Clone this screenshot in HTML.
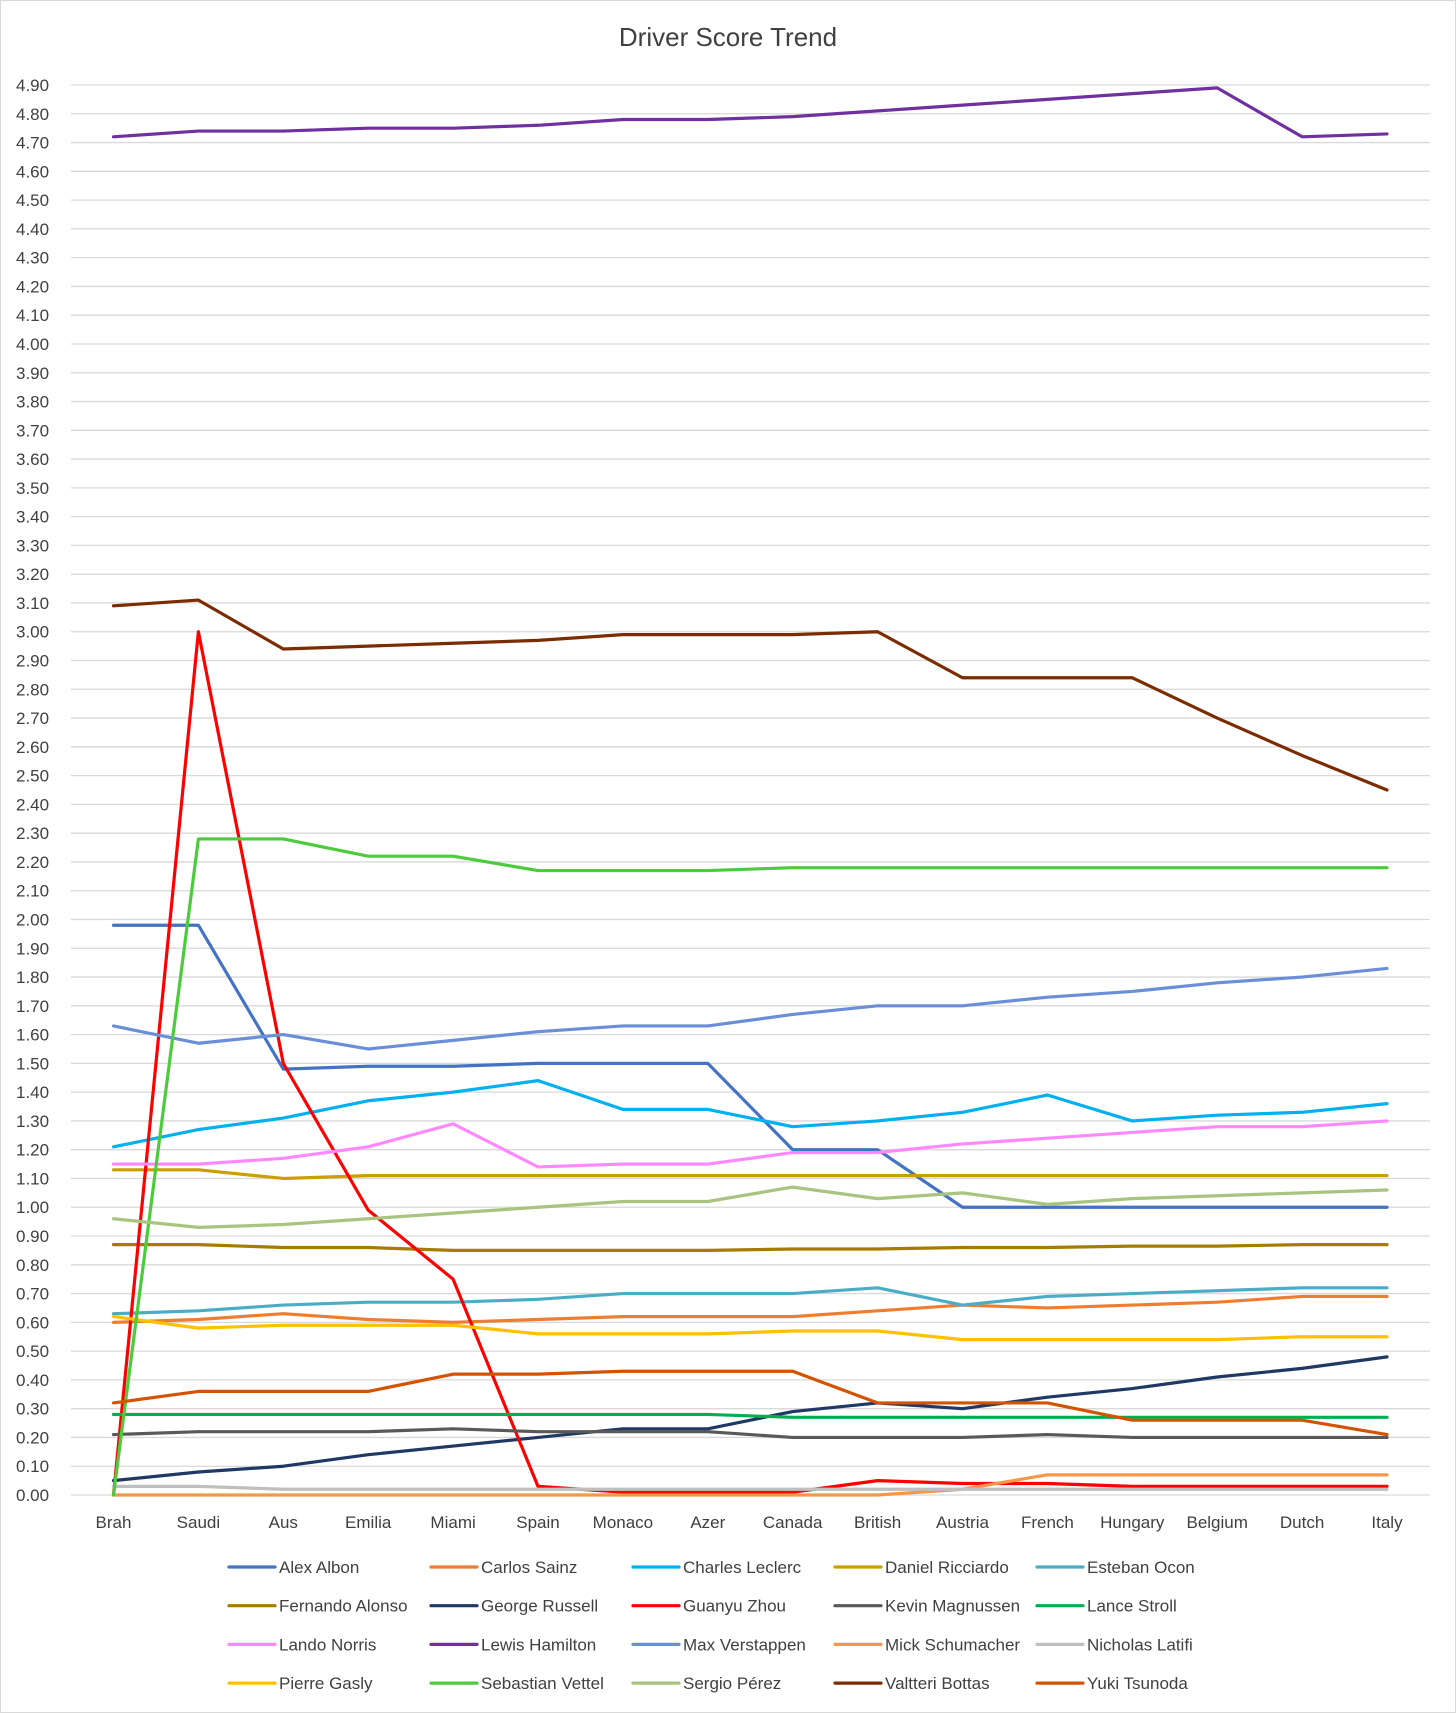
<!DOCTYPE html>
<html><head><meta charset="utf-8"><style>
html,body{margin:0;padding:0;background:#fff}
svg{display:block;font-family:"Liberation Sans",sans-serif}
</style></head><body>
<svg id="chart" width="1456" height="1713" viewBox="0 0 1456 1713" xmlns="http://www.w3.org/2000/svg">
<rect x="0.5" y="0.5" width="1455" height="1712" fill="#fff" stroke="#d9d9d9"/>
<text x="728" y="46" text-anchor="middle" font-size="26" fill="#404040">Driver Score Trend</text>
<g id="grid"></g><g id="xlab"></g><g id="series"></g><g id="legend"></g>
</svg>
<script>
const categories=["Brah","Saudi","Aus","Emilia","Miami","Spain","Monaco","Azer","Canada","British","Austria","French","Hungary","Belgium","Dutch","Italy"];
const yTicks=[0,0.1,0.2,0.3,0.4,0.5,0.6,0.7,0.8,0.9,1,1.1,1.2,1.3,1.4,1.5,1.6,1.7,1.8,1.9,2,2.1,2.2,2.3,2.4,2.5,2.6,2.7,2.8,2.9,3,3.1,3.2,3.3,3.4,3.5,3.6,3.7,3.8,3.9,4,4.1,4.2,4.3,4.4,4.5,4.6,4.7,4.8,4.9];
const seriesNames=["Alex Albon","Carlos Sainz","Charles Leclerc","Daniel Ricciardo","Esteban Ocon","Fernando Alonso","George Russell","Guanyu Zhou","Kevin Magnussen","Lance Stroll","Lando Norris","Lewis Hamilton","Max Verstappen","Mick Schumacher","Nicholas Latifi","Pierre Gasly","Sebastian Vettel","Sergio Pérez","Valtteri Bottas","Yuki Tsunoda"];
const seriesColors=["#4472C4","#ED7D31","#00B0F0","#CC9F00","#4BACC6","#A67C00","#203864","#FF0000","#595959","#00B050","#FF88FF","#7030A0","#6A8FD8","#F79646","#BFBFBF","#FFC000","#4CCB3C","#A9C47F","#7B2C00","#D35400"];
const albon=[1.98,1.98,1.48,1.49,1.49,1.50,1.50,1.50,1.20,1.20,1.00,1.00,1.00,1.00,1.00,1.00];
const sainz=[0.60,0.61,0.63,0.61,0.60,0.61,0.62,0.62,0.62,0.64,0.66,0.65,0.66,0.67,0.69,0.69];
const leclerc=[1.21,1.27,1.31,1.37,1.40,1.44,1.34,1.34,1.28,1.30,1.33,1.39,1.30,1.32,1.33,1.36];
const ricciardo=[1.13,1.13,1.10,1.11,1.11,1.11,1.11,1.11,1.11,1.11,1.11,1.11,1.11,1.11,1.11,1.11];
const ocon=[0.63,0.64,0.66,0.67,0.67,0.68,0.70,0.70,0.70,0.72,0.66,0.69,0.70,0.71,0.72,0.72];
const alonso=[0.87,0.87,0.86,0.86,0.85,0.85,0.85,0.85,0.855,0.855,0.86,0.86,0.865,0.865,0.87,0.87];
const russell=[0.05,0.08,0.10,0.14,0.17,0.20,0.23,0.23,0.29,0.32,0.30,0.34,0.37,0.41,0.44,0.48];
const zhou=[0.00,3.00,1.50,0.99,0.75,0.03,0.01,0.01,0.01,0.05,0.04,0.04,0.03,0.03,0.03,0.03];
const magnussen=[0.21,0.22,0.22,0.22,0.23,0.22,0.22,0.22,0.20,0.20,0.20,0.21,0.20,0.20,0.20,0.20];
const stroll=[0.28,0.28,0.28,0.28,0.28,0.28,0.28,0.28,0.27,0.27,0.27,0.27,0.27,0.27,0.27,0.27];
const norris=[1.15,1.15,1.17,1.21,1.29,1.14,1.15,1.15,1.19,1.19,1.22,1.24,1.26,1.28,1.28,1.30];
const hamilton=[4.72,4.74,4.74,4.75,4.75,4.76,4.78,4.78,4.79,4.81,4.83,4.85,4.87,4.89,4.72,4.73];
const verstappen=[1.63,1.57,1.60,1.55,1.58,1.61,1.63,1.63,1.67,1.70,1.70,1.73,1.75,1.78,1.80,1.83];
const schumacher=[0,0,0,0,0,0,0,0,0,0,0.02,0.07,0.07,0.07,0.07,0.07];
const latifi=[0.03,0.03,0.02,0.02,0.02,0.02,0.02,0.02,0.02,0.02,0.02,0.02,0.02,0.02,0.02,0.02];
const gasly=[0.62,0.58,0.59,0.59,0.59,0.56,0.56,0.56,0.57,0.57,0.54,0.54,0.54,0.54,0.55,0.55];
const vettel=[0.00,2.28,2.28,2.22,2.22,2.17,2.17,2.17,2.18,2.18,2.18,2.18,2.18,2.18,2.18,2.18];
const perez=[0.96,0.93,0.94,0.96,0.98,1.00,1.02,1.02,1.07,1.03,1.05,1.01,1.03,1.04,1.05,1.06];
const bottas=[3.09,3.11,2.94,2.95,2.96,2.97,2.99,2.99,2.99,3.00,2.84,2.84,2.84,2.70,2.57,2.45];
const tsunoda=[0.32,0.36,0.36,0.36,0.42,0.42,0.43,0.43,0.43,0.32,0.32,0.32,0.26,0.26,0.26,0.21];
const seriesValues=[albon,sainz,leclerc,ricciardo,ocon,alonso,russell,zhou,magnussen,stroll,norris,hamilton,verstappen,schumacher,latifi,gasly,vettel,perez,bottas,tsunoda];

const NS="http://www.w3.org/2000/svg";
const x0=113.5,x1=1387,y0=1495,yTop=85,vTop=4.9;
const xs=i=>x0+(x1-x0)*i/(categories.length-1);
const ys=v=>y0-(y0-yTop)*v/vTop;
function mk(tag,attrs,parent){const e=document.createElementNS(NS,tag);for(const k in attrs)e.setAttribute(k,attrs[k]);parent.appendChild(e);return e;}
const grid=document.getElementById('grid');
yTicks.forEach(t=>{
  const l=mk('line',{x1:71,x2:1430,y1:ys(t),y2:ys(t),stroke:'#d9d9d9','stroke-width':1.3},grid);
  
  
  const tx=mk('text',{x:16,y:ys(t)+6,'font-size':17,fill:'#404040'},grid);
  tx.textContent=t.toFixed(2);
  
  
});
const xl=document.getElementById('xlab');
categories.forEach((c,i)=>{
  const tx=mk('text',{x:xs(i),y:1528,'text-anchor':'middle','font-size':17,fill:'#404040'},xl);
  tx.textContent=c;
  
  
});
const sg=document.getElementById('series');
seriesValues.forEach((vals,k)=>{
  const p=mk('polyline',{points:vals.map((v,i)=>xs(i)+','+ys(v)).join(' '),fill:'none',stroke:seriesColors[k],'stroke-width':3.2,'stroke-linejoin':'round','stroke-linecap':'round'},sg);
  
  
});
const lg=document.getElementById('legend');
seriesNames.forEach((n,k)=>{
  const col=k%5,row=Math.floor(k/5);
  const lx=229+col*202,ly=1567+row*38.7;
  const g=mk('g',{},lg);
  
  
  mk('line',{x1:lx,x2:lx+46,y1:ly,y2:ly,stroke:seriesColors[k],'stroke-width':3.2,'stroke-linecap':'round'},g);
  const t=mk('text',{x:lx+50,y:ly+6,'font-size':17,fill:'#404040'},g);
  t.textContent=n;
});
</script>
</body></html>
